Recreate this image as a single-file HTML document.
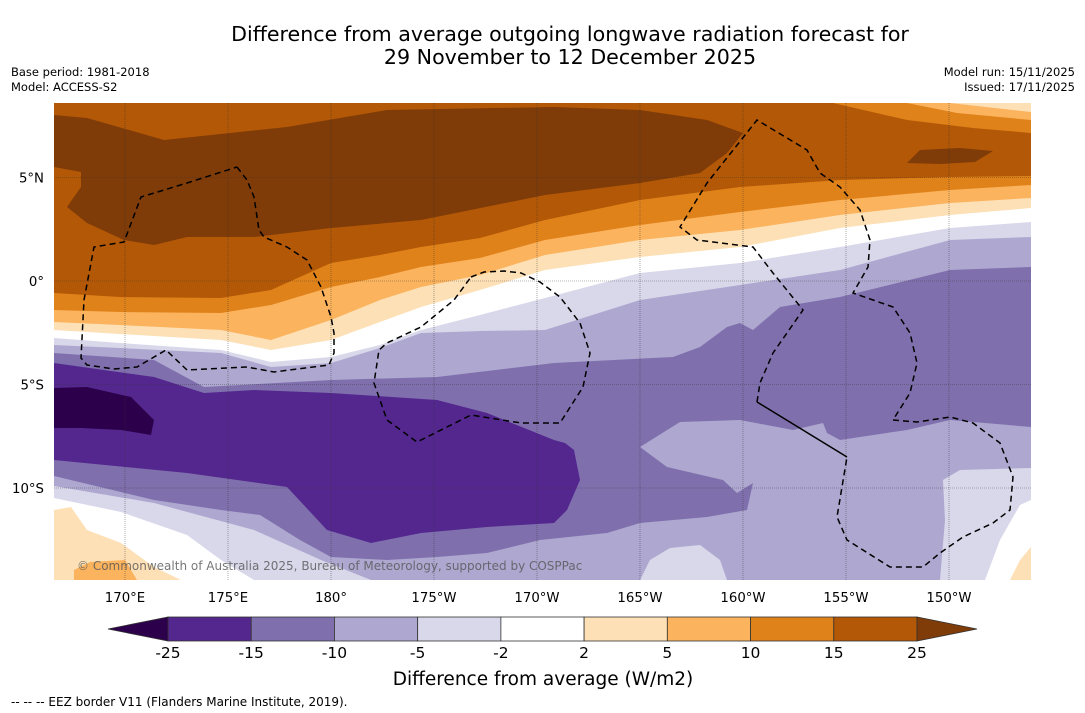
<!DOCTYPE html>
<html><head><meta charset="utf-8"><style>
html,body{margin:0;padding:0;background:#fff;}
svg{display:block;font-family:"DejaVu Sans","Liberation Sans",sans-serif;}
</style></head><body>
<svg id="chart" width="1085" height="713" viewBox="0 0 1085 713" xmlns="http://www.w3.org/2000/svg">
<text x="570" y="41" font-size="20.6" text-anchor="middle" fill="#000">Difference from average outgoing longwave radiation forecast for</text>
<text x="570" y="64" font-size="20.6" text-anchor="middle" fill="#000">29 November to 12 December 2025</text>
<text x="11" y="76" font-size="11.5">Base period: 1981-2018</text>
<text x="11" y="91" font-size="11.5">Model: ACCESS-S2</text>
<text x="1075" y="76" font-size="11.5" text-anchor="end">Model run: 15/11/2025</text>
<text x="1075" y="91" font-size="11.5" text-anchor="end">Issued: 17/11/2025</text>
<defs><clipPath id="mapclip"><rect x="54" y="103" width="977" height="477"/></clipPath></defs>
<g id="map" clip-path="url(#mapclip)"></g>
<g id="axes"></g>
<g id="cbar"></g>
<text x="543" y="685" font-size="18.5" text-anchor="middle">Difference from average (W/m2)</text>
<text x="11" y="706" font-size="12">--  --  -- EEZ border V11 (Flanders Marine Institute, 2019).</text>
</svg>
<script>
// colorbar data
const levels = [-25,-15,-10,-5,-2,2,5,10,15,25];
const bandColors = ["#54278f","#7f70ad","#aea8d0","#d9d8ea","#ffffff","#fde0b5","#fbb35e","#e0821a","#b35806"];
const lowExtColor = "#2d004b", highExtColor = "#7f3b08";
const lonTicks = [170,175,180,-175,-170,-165,-160,-155,-150];
const lonLabels = ["170°E","175°E","180°","175°W","170°W","165°W","160°W","155°W","150°W"];
const latTicks = [5,0,-5,-10];
const latLabels = ["5°N","0°","5°S","10°S"];

const NS = "http://www.w3.org/2000/svg";
const xLon = lon => { const e = lon < 0 ? lon + 360 : lon; return 125 + (e - 170) * 20.6; };
const yLat = lat => 281 - lat * 20.7;
function mk(tag, attrs, parent){ const el=document.createElementNS(NS,tag); for(const k in attrs) el.setAttribute(k,attrs[k]); parent.appendChild(el); return el; }
const map = document.getElementById('map');
const pts = a => a.map(p=>p.join(',')).join(' ');
const X = [54,120,221,271,331,380,421,480,545,640,740,840,950,1031];
const curve = ys => X.map((x,i)=>[x,ys[i]]);
const above = c => c.concat([[1031,103],[54,103]]);
const below = c => c.concat([[1031,580],[54,580]]);
function poly(points, fill, name){
  const el = mk('polygon',{points:pts(points),fill:fill},map);
  
  
}
mk('rect',{x:54,y:103,width:977,height:477,fill:"#d9d8ea"},map);
const C_lav = curve([338,343,350,362,357,345,330,315,298,273,263,247,228,222]);
const C_white = curve([330,334,340,350,340,322,307,290,270,257,247,228,215,208]);
const C_peach = curve([322,325,330,340,320,300,287,275,255,240,230,215,203,198]);
const C_lo = curve([310,312,313,305,287,277,267,258,240,225,212,200,190,185]);
const C_or = curve([293,297,298,290,263,255,247,238,220,200,187,180,177,176]);
const C_ae = curve([345,348,353,367,363,348,333,331,330,300,285,270,240,237]);
poly(above(C_lav),"#ffffff","white-band");
poly(above(C_white),"#fde0b5","peach-band");
poly(above(C_peach),"#fbb35e","light-orange-band");
poly(above(C_lo),"#e0821a","orange-band");
poly(above(C_or),"#b35806","brown-band");
poly([[833,103],[907,120],[973,128],[1031,133],[1031,103]],"#e0821a","orange-ne");
poly([[907,103],[957,113],[1031,120],[1031,103]],"#fbb35e","light-orange-ne");
poly([[950,103],[1031,112],[1031,103]],"#fde0b5","peach-ne");
poly([[54,115],[87,118],[164,140],[287,127],[387,110],[554,107],[640,110],[707,120],[743,133],[727,153],[700,173],[640,183],[545,195],[421,220],[331,228],[254,237],[187,237],[154,245],[124,240],[87,223],[67,207],[81,187],[81,172],[54,167]],"#7f3b08","dark-brown-core");
poly([[907,163],[920,150],[960,148],[993,151],[975,162],[940,164]],"#7f3b08","dark-brown-blob");
poly(below(C_ae),"#aea8d0","lavender-band");
poly([[54,353],[154,360],[204,387],[331,380],[437,377],[554,363],[673,357],[700,347],[727,327],[740,323],[753,330],[780,307],[840,297],[950,270],[1031,267],[1031,427],[950,420],[907,430],[840,440],[827,433],[823,423],[793,430],[740,420],[680,422],[640,447],[667,467],[723,480],[737,493],[753,483],[747,510],[707,517],[640,523],[607,533],[540,540],[487,553],[437,557],[387,560],[331,557],[300,540],[260,515],[221,510],[154,500],[54,476]],"#7f70ad","mid-purple-band");
poly([[54,363],[154,377],[204,393],[254,390],[331,393],[437,400],[487,413],[554,440],[565,443],[574,450],[580,480],[567,510],[554,523],[487,527],[421,533],[371,543],[327,530],[287,487],[187,473],[54,460]],"#54278f","dark-purple-band");
poly([[54,388],[87,387],[131,397],[154,420],[151,435],[121,430],[81,428],[54,428]],"#2d004b","darkest-purple-core");
poly([[54,486],[154,503],[254,530],[321,560],[371,580],[54,580]],"#d9d8ea","pale-lavender-sw");
poly([[54,498],[121,512],[187,535],[221,560],[254,580],[54,580]],"#ffffff","white-sw");
poly([[54,510],[71,507],[87,530],[121,543],[154,567],[181,580],[54,580]],"#fde0b5","peach-sw");
poly([[74,570],[90,562],[125,560],[137,580],[74,580]],"#fbb35e","light-orange-sw");
poly([[640,580],[650,560],[670,548],[700,545],[720,560],[727,580]],"#d9d8ea","pale-lavender-s");
poly([[940,580],[945,520],[943,480],[960,470],[1031,468],[1031,580]],"#d9d8ea","pale-lavender-se");
poly([[985,580],[1000,540],[1020,505],[1031,500],[1031,580]],"#ffffff","white-se");
poly([[1010,580],[1020,560],[1031,547],[1031,580]],"#fde0b5","peach-se");
// gridlines
lonTicks.forEach(l=>{ const g=mk('line',{x1:xLon(l),x2:xLon(l),y1:103,y2:580,stroke:"#333","stroke-width":0.6,"stroke-dasharray":"1,1","stroke-opacity":0.7},map);
  });
latTicks.forEach(l=>{ const g=mk('line',{x1:54,x2:1031,y1:yLat(l),y2:yLat(l),stroke:"#333","stroke-width":0.6,"stroke-dasharray":"1,1","stroke-opacity":0.7},map);
  });
// EEZ borders
const eez = [
 [[237,167],[247,180],[254,197],[259,230],[264,237],[287,247],[307,260],[321,287],[331,317],[334,333],[334,353],[329,365],[274,372],[247,367],[187,370],[166,350],[137,367],[114,369],[87,365],[81,358],[84,300],[94,247],[124,242],[141,197],[187,183],[237,167]],
 [[471,277],[484,272],[504,271],[521,273],[540,282],[560,297],[580,323],[590,353],[583,387],[560,423],[521,423],[471,415],[417,442],[387,420],[374,383],[379,350],[387,343],[421,327],[454,300],[471,277]],
 [[757,402],[760,383],[773,353],[803,310],[773,273],[753,247],[697,240],[680,227],[707,183],[757,120],[807,150],[820,173],[840,187],[860,210],[870,240],[868,267],[853,293],[873,300],[893,307],[910,333],[917,363],[910,393],[893,420],[917,422],[950,417],[973,423],[1000,443],[1013,477],[1010,510],[993,523],[963,537],[940,553],[923,567],[890,567],[847,540],[837,517],[847,457]]
];
eez.forEach(p=>{ const e=mk('polyline',{points:pts(p),fill:"none",stroke:"#000","stroke-width":1.5,"stroke-dasharray":"6,4"},map);
  });
const sl = mk('line',{x1:757,y1:402,x2:847,y2:457,stroke:"#000","stroke-width":1.5},map);
 
const cr = mk('text',{x:77,y:570,"font-size":12,fill:"#555","fill-opacity":0.8},map);
 
cr.textContent = "© Commonwealth of Australia 2025, Bureau of Meteorology, supported by COSPPac";
// axes labels
const axes = document.getElementById('axes');
lonTicks.forEach((l,i)=>{ const t=mk('text',{x:xLon(l),y:602,"font-size":13.3,"text-anchor":"middle"},axes);
   t.textContent=lonLabels[i];});
latTicks.forEach((l,i)=>{ const t=mk('text',{x:44,y:yLat(l)+5,"font-size":13.3,"text-anchor":"end"},axes);
   t.textContent=latLabels[i];});
// colorbar
const cb = document.getElementById('cbar');
const cbX0=168, cbX1=917, cbY=617, cbH=24;
const cbScale = i => cbX0 + i*(cbX1-cbX0)/(levels.length-1);
bandColors.forEach((c,i)=>{ const r=mk('rect',{x:cbScale(i),y:cbY,width:cbScale(i+1)-cbScale(i),height:cbH,fill:c,stroke:"#333","stroke-width":0.8},cb);
  });
const lt = mk('polygon',{points:`${cbX0},${cbY} ${cbX0},${cbY+cbH} 108,${cbY+cbH/2}`,fill:lowExtColor,stroke:"#333","stroke-width":0.8},cb);
 
const rt = mk('polygon',{points:`${cbX1},${cbY} ${cbX1},${cbY+cbH} 977,${cbY+cbH/2}`,fill:highExtColor,stroke:"#333","stroke-width":0.8},cb);
 
levels.forEach((v,i)=>{ const t=mk('text',{x:cbScale(i),y:658,"font-size":15.5,"text-anchor":"middle"},cb);
   t.textContent=v;});
</script>
</body></html>
